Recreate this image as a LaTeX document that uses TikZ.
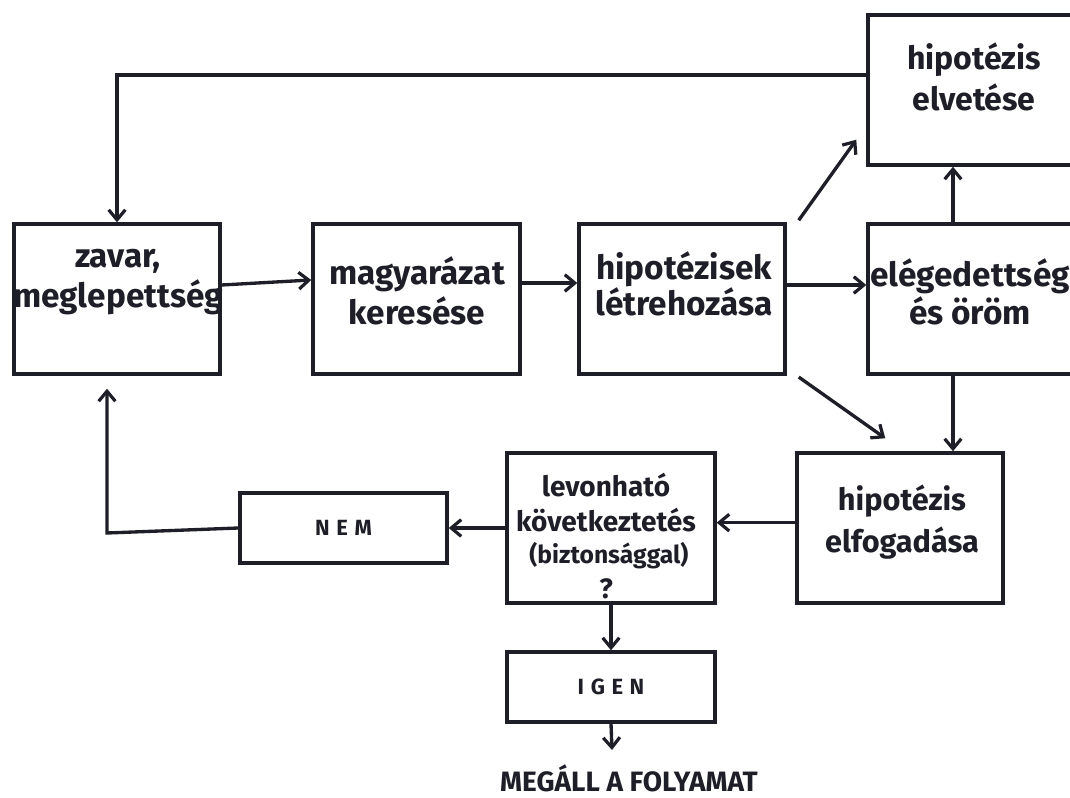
\documentclass[tikz,border=0pt]{standalone}
\usepackage{fontspec}
\setmainfont{Fira Sans}
\usetikzlibrary{arrows.meta}
\definecolor{ink}{HTML}{1E1E28}
\tikzset{
  box/.style={draw=ink,line width=2.6pt,rectangle,inner sep=0pt},
  lbl/.style={text=ink,align=center,inner sep=0pt,font=\fontsize{25}{30}\selectfont\bfseries},
  small/.style={text=ink,inner sep=0pt,font=\fontsize{16.5}{19}\selectfont\bfseries\addfontfeatures{LetterSpace=30}},
  arr/.style={draw=ink,line width=2.5pt,-{Straight Barb[length=7.5pt,width=12.5pt,line width=2.4pt]}},
  ln/.style={draw=ink,line width=2.5pt}
}
\begin{document}
\begin{tikzpicture}[x=0.75pt,y=-0.75pt]
\useasboundingbox (0,0) rectangle (1070,798);
\begin{scope}
\clip (0,0) rectangle (1070,798);
% boxes
\node[box,minimum width=206*0.75pt,minimum height=150*0.75pt] (zavar) at (117,299) {};
\node[box,minimum width=207*0.75pt,minimum height=150*0.75pt] (magy) at (416.5,299) {};
\node[box,minimum width=206*0.75pt,minimum height=150*0.75pt] (hipk) at (682,299) {};
\node[box,minimum width=207*0.75pt,minimum height=150*0.75pt] (eleg) at (971.5,299) {};
\node[box,minimum width=207*0.75pt,minimum height=150*0.75pt] (elvet) at (971.5,90) {};
\node[box,minimum width=206*0.75pt,minimum height=150*0.75pt] (elfog) at (900,528) {};
\node[box,minimum width=208*0.75pt,minimum height=150*0.75pt] (levon) at (611,528) {};
\node[box,minimum width=207*0.75pt,minimum height=70*0.75pt] (nem) at (343.5,528) {};
\node[box,minimum width=208*0.75pt,minimum height=70*0.75pt] (igen) at (611,687) {};
% texts
\node[lbl] (t1) at (118,282) {zavar,\\meglepettség};
\node[lbl] (t2) at (417,291) {magyarázat\\keresése};
\node[lbl,font=\fontsize{25}{27}\selectfont\bfseries] (t3) at (684,284) {hipotézisek\\létrehozása};
\node[lbl,font=\fontsize{25}{28}\selectfont\bfseries] (t4) at (970,292) {elégedettség\\és öröm};
\node[lbl,font=\fontsize{24}{31}\selectfont\bfseries] (t5) at (974,77) {hipotézis\\elvetése};
\node[lbl,font=\fontsize{23}{32}\selectfont\bfseries] (t6) at (902,522) {hipotézis\\elfogadása};
\node[lbl,font=\fontsize{21}{26.5}\selectfont\bfseries] (t7) at (606,536) {levonható\\következtetés\\[-3pt]{\fontsize{18.5}{22}\selectfont\ (biztonsággal)}\\?};
\node[small] (t8) at (nem) {NEM};
\node[small] (t9) at (igen) {IGEN};
\node[text=ink,inner sep=0pt,font=\fontsize{21}{24}\selectfont\bfseries] (t10) at (629,778) {MEGÁLL A FOLYAMAT};
% connectors
\coordinate (k1) at (117,75);
\coordinate (k2) at (107,533);
\coordinate (k3) at (612,750);
\draw[arr] ([yshift=11.25pt]elvet.west) -- (k1) -- (zavar.north);
\draw[arr] ([yshift=10.5pt]zavar.east) -- ([yshift=14.25pt]magy.west);
\draw[arr] ([yshift=12pt]magy.east) -- ([yshift=12pt]hipk.west);
\draw[arr] ([yshift=10.5pt]hipk.east) -- ([yshift=10.5pt]eleg.west);
\draw[arr] ([xshift=9pt,yshift=1.5pt]hipk.north east) -- ([xshift=-7.5pt,yshift=20.25pt]elvet.south west);
\draw[arr] ([xshift=9pt,yshift=-1pt]hipk.south east) -- ([xshift=67.5pt,yshift=9.75pt]elfog.north west);
\draw[arr] ([xshift=-13.9pt]eleg.north) -- ([xshift=-13.9pt]elvet.south);
\draw[arr] ([xshift=-13.9pt]eleg.south) -- ([xshift=-13.9pt]eleg.south |- elfog.north);
\draw[arr] ([yshift=4pt]elfog.west) -- ([yshift=4pt]levon.west -| levon.east);
\draw[arr] (levon.west) -- (nem.east);
\draw[arr] (nem.west) -- (k2) -- ([xshift=-7.5pt,yshift=-9.75pt]zavar.south);
\draw[arr] (levon.south) -- (igen.north);
\draw[arr] (igen.south) -- (k3);
\end{scope}
\end{tikzpicture}
\end{document}
